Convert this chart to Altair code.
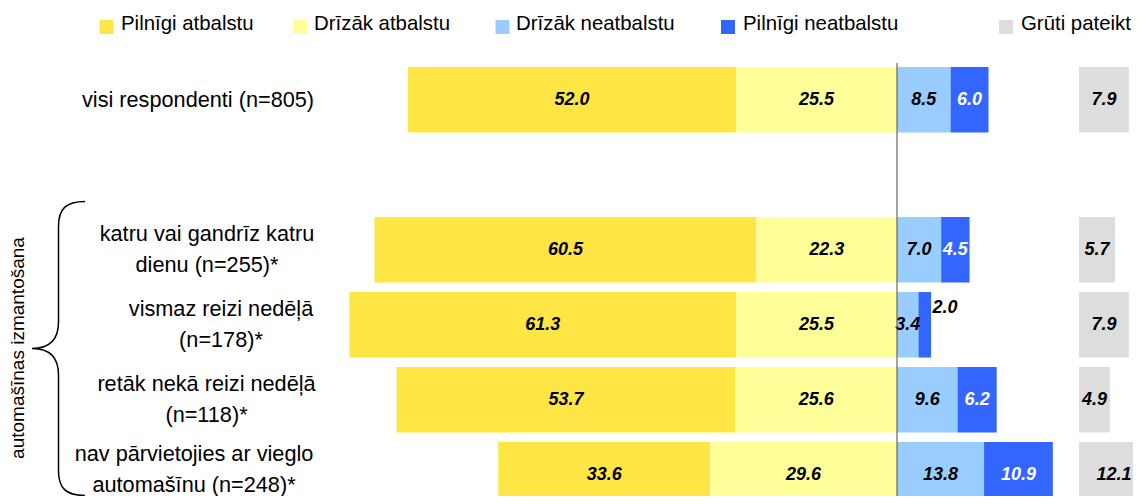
import altair as alt
import pandas as pd

# ---------------- data ----------------
row_labels = [
    "visi respondenti (n=805)",
    "katru vai gandrīz katru\ndienu (n=255)*",
    "vismaz reizi nedēļā\n(n=178)*",
    "retāk nekā reizi nedēļā\n(n=118)*",
    "nav pārvietojies ar vieglo\nautomašīnu (n=248)*",
]
series_names = ["Pilnīgi atbalstu", "Drīzāk atbalstu", "Drīzāk neatbalstu",
                "Pilnīgi neatbalstu", "Grūti pateikt"]
pilnigi_atbalstu = [52.0, 60.5, 61.3, 53.7, 33.6]
drizak_atbalstu = [25.5, 22.3, 25.5, 25.6, 29.6]
drizak_neatbalstu = [8.5, 7.0, 3.4, 9.6, 13.8]
pilnigi_neatbalstu = [6.0, 4.5, 2.0, 6.2, 10.9]
gruti_pateikt = [7.9, 5.7, 7.9, 4.9, 12.1]
group_title = "automašīnas izmantošana"

colors = ["#FFE645", "#FFFF99", "#99CCFF", "#3366FF", "#DDDDDD"]

# ---------------- layout ----------------
W, H = 1125, 488          # plot area (page origin at 8,8)
PX_PER_UNIT = 6.31
CENTER_PAGE_X = 897
GRUTI_PAGE_X = 1079
STEP = 75.0
ROW0_PAGE_Y = 99.7
BAR_HALF = 32.8 / STEP
LINE_H = 31
slots = [0, 2, 3, 4, 5]
label_center_page_x = [198, 207, 221, 206.5, 194]
label_shift_px = [0, 0, 0, 0, -5]      # keep the last label inside the page

xmin = (8 - CENTER_PAGE_X) / PX_PER_UNIT
xmax = (8 + W - CENTER_PAGE_X) / PX_PER_UNIT
ymin = (8 - ROW0_PAGE_Y) / STEP
ymax = (8 + H - ROW0_PAGE_Y) / STEP
GRUTI_OFF = (GRUTI_PAGE_X - CENTER_PAGE_X) / PX_PER_UNIT
VAL_MAX_X = (8 + W - 19 - CENTER_PAGE_X) / PX_PER_UNIT


def px2x(px):
    return (px - CENTER_PAGE_X) / PX_PER_UNIT


def py2y(py):
    return (py - ROW0_PAGE_Y) / STEP


xs = alt.Scale(domain=[xmin, xmax], nice=False, zero=False)
ys = alt.Scale(domain=[ymin, ymax], nice=False, zero=False, reverse=True)

# ---------------- tables ----------------
recs = []
for i in range(len(row_labels)):
    pa, da, dn, pn, g = (pilnigi_atbalstu[i], drizak_atbalstu[i], drizak_neatbalstu[i],
                         pilnigi_neatbalstu[i], gruti_pateikt[i])
    segs = [
        (series_names[0], -(pa + da), -da, pa),
        (series_names[1], -da, 0, da),
        (series_names[2], 0, dn, dn),
        (series_names[3], dn, dn + pn, pn),
        (series_names[4], GRUTI_OFF, GRUTI_OFF + g, g),
    ]
    for name, a, b, v in segs:
        recs.append(dict(series=name, x0=a, x1=b, xm=min((a + b) / 2, VAL_MAX_X), v=v,
                         slot=slots[i], y0=slots[i] - BAR_HALF, y1=slots[i] + BAR_HALF,
                         small=v < 2.5, white=(name == series_names[3])))
seg = pd.DataFrame(recs)

color = alt.Color("series:N", scale=alt.Scale(domain=series_names, range=colors), legend=None)

bars = alt.Chart(seg).mark_rect(clip=True).encode(
    x=alt.X("x0:Q", scale=xs, axis=None), x2="x1:Q",
    y=alt.Y("y0:Q", scale=ys, axis=None), y2="y1:Q",
    color=color,
)

val_font = dict(font="Liberation Sans", fontSize=18, fontWeight="bold", fontStyle="italic")

normal = seg[(~seg.small)]
vals_black = alt.Chart(normal[~normal.white]).mark_text(
    baseline="middle", align="center", color="black", **val_font
).encode(x=alt.X("xm:Q", scale=xs, axis=None), y=alt.Y("slot:Q", scale=ys, axis=None),
         text=alt.Text("v:Q", format=".1f"))
vals_white = alt.Chart(normal[normal.white]).mark_text(
    baseline="middle", align="center", color="white", **val_font
).encode(x=alt.X("xm:Q", scale=xs, axis=None), y=alt.Y("slot:Q", scale=ys, axis=None),
         text=alt.Text("v:Q", format=".1f"))
vals_small = alt.Chart(seg[seg.small]).mark_text(
    baseline="middle", align="center", color="black", dx=14, dy=-17, **val_font
).encode(x=alt.X("x1:Q", scale=xs, axis=None), y=alt.Y("slot:Q", scale=ys, axis=None),
         text=alt.Text("v:Q", format=".1f"))

# center line
center = alt.Chart(pd.DataFrame({"x": [0.0], "ya": [py2y(63)], "yb": [ymax]})).mark_rule(
    color="#666666", strokeWidth=1.2
).encode(x=alt.X("x:Q", scale=xs, axis=None), y=alt.Y("ya:Q", scale=ys, axis=None), y2="yb:Q")

# category labels (multi-line blocks centred on the row)
nlines = [lbl.count("\n") + 1 for lbl in row_labels]
lab = pd.DataFrame({"label": row_labels,
                    "ly": [s - (n - 1) * LINE_H / 2 / STEP + d / STEP
                           for s, n, d in zip(slots, nlines, label_shift_px)],
                    "lx": [px2x(p) for p in label_center_page_x]})
labels = alt.Chart(lab).mark_text(
    font="Liberation Sans", fontSize=21.7, align="center", baseline="middle",
    lineBreak="\n", lineHeight=LINE_H, color="black"
).encode(x=alt.X("lx:Q", scale=xs, axis=None), y=alt.Y("ly:Q", scale=ys, axis=None),
         text="label:N")

# legend (manual)
leg_sq_page_x = [106.5, 300.5, 502.5, 728, 1006]
leg_tx_page_x = [121, 314, 516, 743, 1021]
leg = pd.DataFrame({"series": series_names,
                    "sx": [px2x(p) for p in leg_sq_page_x],
                    "tx": [px2x(p) for p in leg_tx_page_x],
                    "sy": [py2y(27)] * 5, "ty": [py2y(30)] * 5})
leg_sq = alt.Chart(leg).mark_square(size=196, opacity=1).encode(
    x=alt.X("sx:Q", scale=xs, axis=None), y=alt.Y("sy:Q", scale=ys, axis=None), color=color)
leg_tx = alt.Chart(leg).mark_text(
    font="Liberation Sans", fontSize=20.4, align="left", baseline="alphabetic", color="black"
).encode(x=alt.X("tx:Q", scale=xs, axis=None), y=alt.Y("ty:Q", scale=ys, axis=None),
         text="series:N")

# group title (rotated) and brace
grp = pd.DataFrame({"t": [group_title], "x": [px2x(18)], "y": [py2y(348)]})
grp_text = alt.Chart(grp).mark_text(
    font="Liberation Sans", fontSize=19, angle=270, align="center", baseline="middle", color="black"
).encode(x=alt.X("x:Q", scale=xs, axis=None), y=alt.Y("y:Q", scale=ys, axis=None), text="t:N")

BRACE = ("M0.18,-1 C0.05,-1 0,-0.95 0,-0.83 L0,-0.18 C0,-0.05 -0.07,0 -0.18,0 "
         "C-0.07,0 0,0.05 0,0.18 L0,0.83 C0,0.95 0.05,1 0.18,1")
brace_half = 147
brace = alt.Chart(pd.DataFrame({"x": [px2x(58.5)], "y": [py2y(348.5)]})).mark_point(
    shape=BRACE, filled=False, stroke="black", strokeWidth=1.5, opacity=1,
    size=(2 * brace_half) ** 2
).encode(x=alt.X("x:Q", scale=xs, axis=None), y=alt.Y("y:Q", scale=ys, axis=None))

chart = alt.layer(
    bars, vals_black, vals_white, vals_small, center, labels, leg_sq, leg_tx, grp_text, brace
).properties(
    width=W, height=H, padding=0, autosize=alt.AutoSizeParams(type="none")
).configure_view(stroke=None)

chart.save("out.html", embed_options={"renderer": "svg", "actions": False})
